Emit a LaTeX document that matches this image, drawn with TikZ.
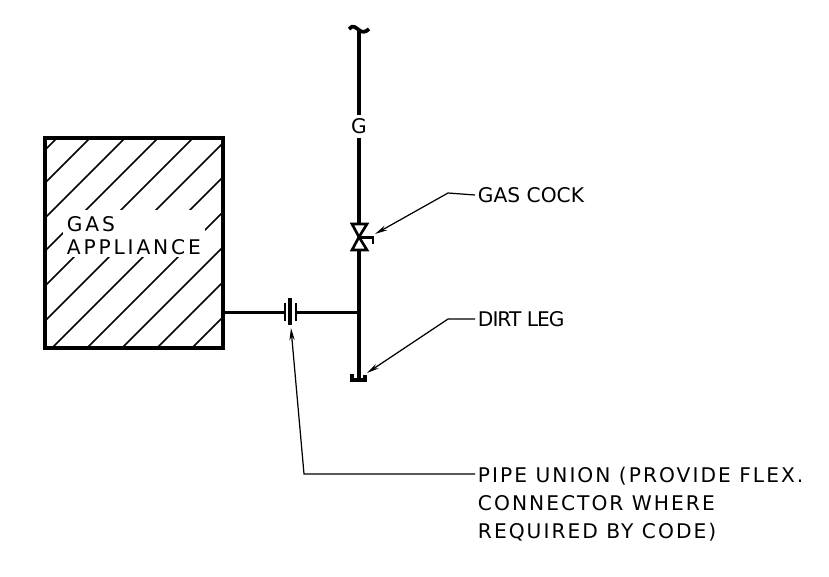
\documentclass[tikz,border=0pt]{standalone}
\usepackage{fontspec}
\setmainfont{DejaVu Sans}
\usetikzlibrary{arrows.meta}
\tikzset{
  pipe/.style={line width=2.1pt},
  branch/.style={line width=1.7pt},
  hatch/.style={line width=0.85pt},
  leader/.style={line width=0.7pt},
  leaderarrow/.style={leader,-{Stealth[length=7pt,width=3pt]}},
  callout/.style={font=\fontsize{11.5}{15.9}\selectfont,inner sep=1.5pt,anchor=west,align=left},
}
\begin{document}
\begin{tikzpicture}[x=0.02cm,y=-0.02cm]
  \useasboundingbox (0,0) rectangle (829,576);
  % hatching of the appliance
  \draw[hatch] (45,150) -- (57,138);
  \draw[hatch] (45,183) -- (90,138);
  \draw[hatch] (45,218) -- (125,138);
  \draw[hatch] (45,251) -- (158,138);
  \draw[hatch] (45,286) -- (193,138);
  \draw[hatch] (45,321) -- (223,143);
  \draw[hatch] (52,348) -- (223,177);
  \draw[hatch] (87,348) -- (223,212);
  \draw[hatch] (122,348) -- (223,247);
  \draw[hatch] (157,348) -- (223,282);
  \draw[hatch] (192,348) -- (223,317);
  \node[fill=white,inner sep=0pt,minimum width=2.84cm,minimum height=0.94cm] (gasmask) at (134,233.5) {};
  \node[callout,font=\fontsize{11.5}{13}\selectfont\addfontfeature{LetterSpace=14}] (gasname) at (64,235.5) {GAS\\APPLIANCE};
  \node[draw,line width=2.1pt,outer sep=0pt,minimum width=3.56cm,minimum height=4.2cm] (appliance) at (134,243) {};
  % riser with the gas cock
  \coordinate (risertop) at (359,30);
  \coordinate (cock) at (359,237);
  \coordinate (tee) at (359,312);
  \coordinate (legend) at (359,380);
  \node[font=\fontsize{11.5}{12}\selectfont,inner sep=2pt] (gasmark) at (359,126) {G};
  \draw[pipe] (349,29) .. controls (353,24) and (356,28) .. (359,30) .. controls (362,33) and (366,32) .. (369,29);
  \draw[pipe] (risertop) -- (gasmark);
  \draw[pipe] (gasmark) -- (359,224);
  \draw[line width=1.5pt] (352,224) -- (367,224) -- (cock) -- cycle;
  \draw[line width=1.5pt] (352,250) -- (367,250) -- (cock) -- cycle;
  \draw[line width=1.7pt] (cock) -- (373,237) -- (373,244);
  \draw[pipe] (359,250) -- (legend);
  \draw[line width=2pt] (352,374) -- (352,380) -- (365,380) -- (365,375);
  % branch with the union
  \coordinate (unionleft) at (285,312);
  \coordinate (unionright) at (296,312);
  \draw[branch] (appliance.east |- tee) -- (unionleft);
  \draw[branch] (unionright) -- (tee);
  \draw[line width=1.7pt] (285,303) -- (285,321);
  \draw[line width=2.1pt] (290,298) -- (290,325);
  \draw[line width=1.7pt] (296,303) -- (296,321);
  % callouts
  \node[callout] (cocklabel) at (475,195) {GAS COCK};
  \node[callout,font=\fontsize{11.5}{15.9}\selectfont\addfontfeature{LetterSpace=-5}] (leglabel) at (475,319) {DIRT LEG};
  \node[callout,anchor=north west,font=\fontsize{11.5}{15.9}\selectfont\addfontfeature{LetterSpace=10}] (unionlabel) at (475,464) {PIPE UNION (PROVIDE FLEX.\\CONNECTOR WHERE\\REQUIRED BY CODE)};
  \coordinate (unionend) at (475,474);
  \draw[leaderarrow] (cocklabel.west) -- (448,193) -- (375,234);
  \draw[leaderarrow] (leglabel.west) -- (448,319) -- (367,373);
  \draw[leaderarrow] (unionend) -- (304,474) -- (291,328);
\end{tikzpicture}
\end{document}
